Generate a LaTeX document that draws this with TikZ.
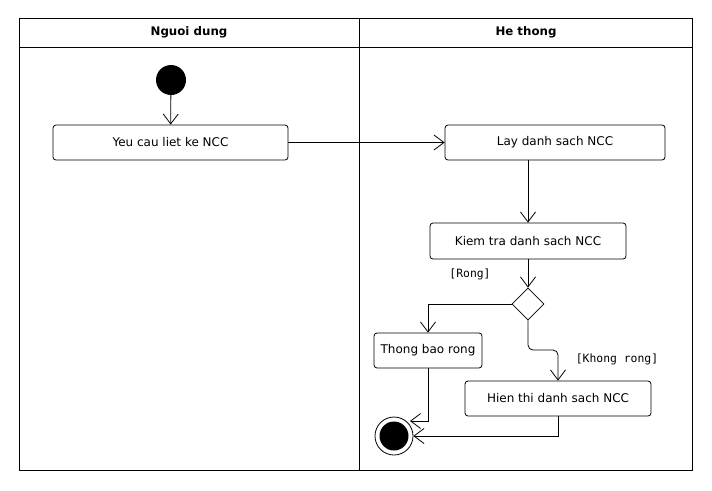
\documentclass[tikz,border=0pt]{standalone}
\usepackage{fontspec}
\setmainfont{DejaVu Sans}
\setmonofont{DejaVu Sans Mono}
\usetikzlibrary{arrows.meta,shapes.geometric}
\begin{document}
\begin{tikzpicture}[x=1pt,y=-1pt,
  font=\fontsize{12}{14}\selectfont,
  act/.style={draw,rounded corners=3pt,line width=0.8pt,minimum height=35pt,inner sep=0pt},
  hdr/.style={font=\fontsize{11.8}{14}\selectfont\bfseries},
  guard/.style={font=\fontsize{11.4}{13}\selectfont\ttfamily},
  flow/.style={line width=0.8pt,-{Straight Barb[length=10pt,width=15pt,line width=0.8pt]}},
  lane/.style={line width=0.8pt}]
\useasboundingbox (0,0) rectangle (712,490);
% swimlanes
\draw[lane] (19,18) rectangle (692,470);
\draw[lane] (19,47) -- (692,47);
\draw[lane] (359,18) -- (359,470);
\node[hdr] (h1) at (189,32) {Nguoi dung};
\node[hdr] (h2) at (526,32) {He thong};
% nodes
\node[circle,fill=black,minimum size=30pt,inner sep=0pt] (start) at (171,80) {};
\node[act,minimum width=235pt] (yeu) at (170.5,142.5) {Yeu cau liet ke NCC};
\node[act,minimum width=220pt] (lay) at (555,142.5) {Lay danh sach NCC};
\node[act,minimum width=196pt,minimum height=36pt] (kiem) at (528,241) {Kiem tra danh sach NCC};
\node[diamond,draw,line width=0.8pt,minimum width=32pt,minimum height=32pt,inner sep=0pt] (dec) at (528,304) {};
\node[act,minimum width=108pt] (thong) at (428,350.5) {Thong bao rong};
\node[act,minimum width=186pt] (hien) at (558,398.5) {Hien thi danh sach NCC};
\node[circle,draw,line width=0.8pt,minimum size=38pt,inner sep=0pt] (end) at (394,436) {};
\node[circle,fill=black,minimum size=29pt,inner sep=0pt] (endin) at (394,436) {};
\coordinate (c1) at (528,160);
% flows
\draw[flow] (start) -- (yeu);
\draw[flow] (yeu) -- (lay);
\draw[flow] (c1) -- (kiem.north);
\draw[flow] (kiem) -- (dec.north);
\draw[flow] (dec.west) -| (thong.north);
\draw[flow,rounded corners=5pt] (dec.south) -- (528,350) -- (558,350) -- (hien.north);
\draw[flow] (thong.south) |- (410,421);
\draw[flow] (hien.south) |- (end.east);
\node[guard] (g1) at (470,274) {[Rong]};
\node[guard] (g2) at (617,359) {[Khong rong]};
\end{tikzpicture}
\end{document}
